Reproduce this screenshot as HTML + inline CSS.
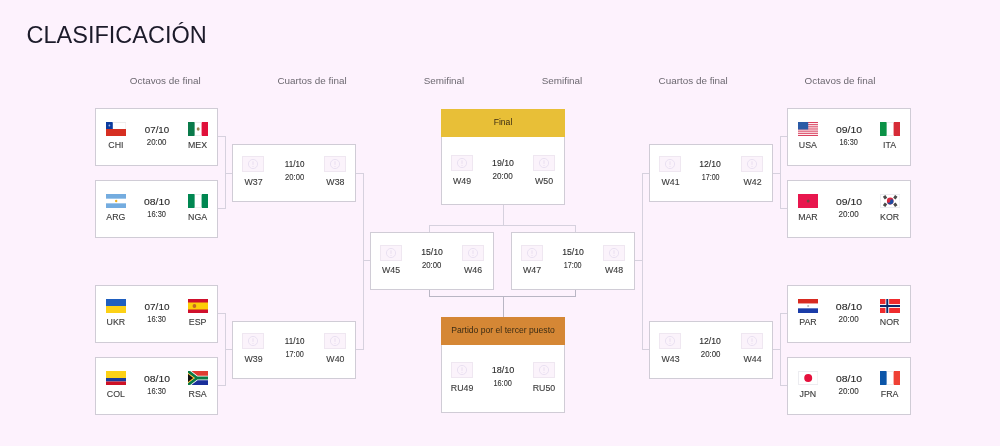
<!DOCTYPE html>
<html><head><meta charset="utf-8"><style>
*{margin:0;padding:0;box-sizing:border-box}
html,body{width:1000px;height:446px;overflow:hidden;background:#fdf2fd}
body{position:relative;font-family:"Liberation Sans",sans-serif;color:#333}
h1{position:absolute;left:26.5px;top:21.23px;font-size:23.5px;font-weight:400;line-height:28px;color:#1c1b2a;white-space:nowrap}
.col{position:absolute;width:100px;text-align:center;font-size:9.9px;line-height:12px;color:#6c6870;white-space:nowrap}
.card{position:absolute;background:#fff;border:1px solid #d0ccd6}
.hdr{position:absolute;left:-1px;top:-1px;right:-1px;height:28px;font-size:8.6px;line-height:26.8px;text-align:center;color:#3b2c14;white-space:nowrap}
.img{position:absolute;line-height:0}
.img svg{display:block}
.nm,.dt,.tm{position:absolute;text-align:center;white-space:nowrap}
.nm{font-size:8.8px;line-height:10px;color:#3c3c3c}
.dt{font-size:9.6px;line-height:12px;color:#2a2a2a}
.tm{font-size:8.5px;line-height:10px;color:#363636}
.sx{display:inline-block}
.nm,.dt,.tm{-webkit-text-stroke:.12px currentColor}
.ln{position:absolute;background:#d6d1de}
#root{position:absolute;left:0;top:0;width:1000px;height:446px;will-change:transform}
</style></head><body>
<div id="root">
<h1>CLASIFICACIÓN</h1>
<div class="ln" style="left:217px;top:136px;width:9px;height:1px"></div><div class="ln" style="left:217px;top:208px;width:9px;height:1px"></div><div class="ln" style="left:225px;top:136px;width:1px;height:73px"></div><div class="ln" style="left:225px;top:173px;width:8px;height:1px"></div><div class="ln" style="left:217px;top:313px;width:9px;height:1px"></div><div class="ln" style="left:217px;top:385px;width:9px;height:1px"></div><div class="ln" style="left:225px;top:313px;width:1px;height:73px"></div><div class="ln" style="left:225px;top:349px;width:8px;height:1px"></div><div class="ln" style="left:355px;top:173px;width:9px;height:1px"></div><div class="ln" style="left:355px;top:349px;width:9px;height:1px"></div><div class="ln" style="left:363px;top:173px;width:1px;height:177px"></div><div class="ln" style="left:363px;top:260px;width:8px;height:1px"></div><div class="ln" style="left:780px;top:136px;width:8px;height:1px"></div><div class="ln" style="left:780px;top:208px;width:8px;height:1px"></div><div class="ln" style="left:780px;top:136px;width:1px;height:73px"></div><div class="ln" style="left:772px;top:173px;width:9px;height:1px"></div><div class="ln" style="left:780px;top:313px;width:8px;height:1px"></div><div class="ln" style="left:780px;top:385px;width:8px;height:1px"></div><div class="ln" style="left:780px;top:313px;width:1px;height:73px"></div><div class="ln" style="left:772px;top:349px;width:9px;height:1px"></div><div class="ln" style="left:642px;top:173px;width:8px;height:1px"></div><div class="ln" style="left:642px;top:349px;width:8px;height:1px"></div><div class="ln" style="left:642px;top:173px;width:1px;height:177px"></div><div class="ln" style="left:634px;top:260px;width:9px;height:1px"></div><div class="ln" style="left:429px;top:225px;width:1px;height:8px"></div><div class="ln" style="left:575px;top:225px;width:1px;height:8px"></div><div class="ln" style="left:429px;top:225px;width:147px;height:1px"></div><div class="ln" style="left:503px;top:204px;width:1px;height:22px"></div><div class="ln" style="left:429px;top:289px;width:1px;height:8px;background:#b9b6c4"></div><div class="ln" style="left:575px;top:289px;width:1px;height:8px;background:#b9b6c4"></div><div class="ln" style="left:429px;top:296px;width:147px;height:1px;background:#b9b6c4"></div><div class="ln" style="left:503px;top:296px;width:1px;height:22px;background:#b9b6c4"></div><div class="card" style="left:95px;top:108px;width:123px;height:58px"><div class="img" style="left:10.00px;top:13.20px"><svg width="20.4" height="14" viewBox="0 0 21 14" preserveAspectRatio="none"><rect width="21" height="7" fill="#fff"/><rect y="7" width="21" height="7" fill="#d62f22"/><rect width="7" height="7" fill="#0b3b9e"/><circle cx="3.5" cy="3.5" r=".9" fill="#9fb4e6"/><path d="M7 .5 H20.5 V7" fill="none" stroke="#ececec"/></svg></div><div class="img" style="left:91.60px;top:13.20px"><svg width="20.4" height="14" viewBox="0 0 21 14" preserveAspectRatio="none"><rect width="7" height="14" fill="#0a7a4a"/><rect x="7" width="7" height="14" fill="#fff"/><rect x="14" width="7" height="14" fill="#e0103a"/><ellipse cx="10.5" cy="7" rx="1.5" ry="1.8" fill="#9a8050"/><path d="M7 .5 H14 M7 13.5 H14" stroke="#eee"/></svg></div><div class="nm" id="nm1" style="left:-2.10px;top:30.71px;width:44px">CHI</div><div class="nm" id="nm2" style="left:79.60px;top:30.71px;width:44px">MEX</div><div class="dt" id="dt3" style="left:38.70px;top:14.58px;width:44px"><span class="sx" style="transform:scaleX(1.017)">07/10</span></div><div class="tm" id="tm4" style="left:38.70px;top:27.90px;width:44px"><span class="sx" style="transform:scaleX(0.929)">20:00</span></div></div><div class="card" style="left:95px;top:180px;width:123px;height:58px"><div class="img" style="left:10.00px;top:13.20px"><svg width="20.4" height="14" viewBox="0 0 21 14" preserveAspectRatio="none"><rect width="21" height="14" fill="#74acdf"/><rect y="4.67" width="21" height="4.67" fill="#fff"/><circle cx="10.5" cy="7" r="1.2" fill="#f0b020"/></svg></div><div class="img" style="left:91.60px;top:13.20px"><svg width="20.4" height="14" viewBox="0 0 21 14" preserveAspectRatio="none"><rect width="7" height="14" fill="#008751"/><rect x="7" width="7" height="14" fill="#fff"/><rect x="14" width="7" height="14" fill="#008751"/><path d="M7 .5 H14 M7 13.5 H14" stroke="#eee"/></svg></div><div class="nm" id="nm5" style="left:-2.10px;top:30.71px;width:44px">ARG</div><div class="nm" id="nm6" style="left:79.60px;top:30.71px;width:44px">NGA</div><div class="dt" id="dt7" style="left:38.70px;top:14.58px;width:44px"><span class="sx" style="transform:scaleX(1.083)">08/10</span></div><div class="tm" id="tm8" style="left:38.70px;top:27.90px;width:44px"><span class="sx" style="transform:scaleX(0.875)">16:30</span></div></div><div class="card" style="left:95px;top:285px;width:123px;height:58px"><div class="img" style="left:10.00px;top:13.20px"><svg width="20.4" height="14" viewBox="0 0 21 14" preserveAspectRatio="none"><rect width="21" height="7" fill="#1f5fbf"/><rect y="7" width="21" height="7" fill="#fcd116"/></svg></div><div class="img" style="left:91.60px;top:13.20px"><svg width="20.4" height="14" viewBox="0 0 21 14" preserveAspectRatio="none"><rect width="21" height="14" fill="#d0102c"/><rect y="3.5" width="21" height="7" fill="#fcce08"/><circle cx="6.6" cy="7" r="1.9" fill="#b8562a" opacity=".85"/></svg></div><div class="nm" id="nm9" style="left:-2.10px;top:30.71px;width:44px">UKR</div><div class="nm" id="nm10" style="left:79.60px;top:30.71px;width:44px">ESP</div><div class="dt" id="dt11" style="left:38.70px;top:14.58px;width:44px"><span class="sx" style="transform:scaleX(1.035)">07/10</span></div><div class="tm" id="tm12" style="left:38.70px;top:27.90px;width:44px"><span class="sx" style="transform:scaleX(0.875)">16:30</span></div></div><div class="card" style="left:95px;top:357px;width:123px;height:58px"><div class="img" style="left:10.00px;top:13.20px"><svg width="20.4" height="14" viewBox="0 0 21 14" preserveAspectRatio="none"><rect width="21" height="7" fill="#fcd116"/><rect y="7" width="21" height="3.5" fill="#1a3c9c"/><rect y="10.5" width="21" height="3.5" fill="#ce1126"/></svg></div><div class="img" style="left:91.60px;top:13.20px"><svg width="20.4" height="14" viewBox="0 0 21 14" preserveAspectRatio="none"><rect width="21" height="7" fill="#e03c31"/><rect y="7" width="21" height="7" fill="#1a2f9a"/><path d="M-1 -0.6 L9.2 7 L-1 14.6 M9.2 7 H22" fill="none" stroke="#fff" stroke-width="4.4"/><path d="M-1 -0.6 L9.2 7 L-1 14.6 M9.2 7 H22" fill="none" stroke="#0a7a44" stroke-width="2.8"/><path d="M0 1.9 L6.9 7 L0 12.1 Z" fill="#ffb81c"/><path d="M0 3.1 L5.3 7 L0 10.9 Z" fill="#111"/></svg></div><div class="nm" id="nm13" style="left:-2.10px;top:30.71px;width:44px">COL</div><div class="nm" id="nm14" style="left:79.60px;top:30.71px;width:44px">RSA</div><div class="dt" id="dt15" style="left:38.70px;top:14.58px;width:44px"><span class="sx" style="transform:scaleX(1.083)">08/10</span></div><div class="tm" id="tm16" style="left:38.70px;top:27.90px;width:44px"><span class="sx" style="transform:scaleX(0.875)">16:30</span></div></div><div class="card" style="left:232px;top:144px;width:124px;height:58px"><div class="img" style="left:9.10px;top:11.00px"><svg width="22" height="16" viewBox="0 0 22 16"><rect x=".5" y=".5" width="21" height="15" fill="#fbf3fb" stroke="#efe7f1"/><circle cx="11" cy="8" r="4.6" fill="none" stroke="#e8dff0" stroke-width=".9"/><path d="M11 5.3 V8.8" stroke="#e6dbee" stroke-width=".9"/><circle cx="11" cy="10.4" r=".5" fill="#e6dbee"/></svg></div><div class="img" style="left:91.00px;top:11.00px"><svg width="22" height="16" viewBox="0 0 22 16"><rect x=".5" y=".5" width="21" height="15" fill="#fbf3fb" stroke="#efe7f1"/><circle cx="11" cy="8" r="4.6" fill="none" stroke="#e8dff0" stroke-width=".9"/><path d="M11 5.3 V8.8" stroke="#e6dbee" stroke-width=".9"/><circle cx="11" cy="10.4" r=".5" fill="#e6dbee"/></svg></div><div class="nm" id="nm17" style="left:-1.50px;top:31.71px;width:44px">W37</div><div class="nm" id="nm18" style="left:80.40px;top:31.71px;width:44px">W38</div><div class="dt" id="dt19" style="left:39.90px;top:12.68px;width:44px"><span class="sx" style="transform:scaleX(0.841)">11/10</span></div><div class="tm" id="tm20" style="left:39.90px;top:26.60px;width:44px"><span class="sx" style="transform:scaleX(0.895)">20:00</span></div></div><div class="card" style="left:232px;top:321px;width:124px;height:58px"><div class="img" style="left:9.10px;top:11.00px"><svg width="22" height="16" viewBox="0 0 22 16"><rect x=".5" y=".5" width="21" height="15" fill="#fbf3fb" stroke="#efe7f1"/><circle cx="11" cy="8" r="4.6" fill="none" stroke="#e8dff0" stroke-width=".9"/><path d="M11 5.3 V8.8" stroke="#e6dbee" stroke-width=".9"/><circle cx="11" cy="10.4" r=".5" fill="#e6dbee"/></svg></div><div class="img" style="left:91.00px;top:11.00px"><svg width="22" height="16" viewBox="0 0 22 16"><rect x=".5" y=".5" width="21" height="15" fill="#fbf3fb" stroke="#efe7f1"/><circle cx="11" cy="8" r="4.6" fill="none" stroke="#e8dff0" stroke-width=".9"/><path d="M11 5.3 V8.8" stroke="#e6dbee" stroke-width=".9"/><circle cx="11" cy="10.4" r=".5" fill="#e6dbee"/></svg></div><div class="nm" id="nm21" style="left:-1.50px;top:31.71px;width:44px">W39</div><div class="nm" id="nm22" style="left:80.40px;top:31.71px;width:44px">W40</div><div class="dt" id="dt23" style="left:39.90px;top:12.68px;width:44px"><span class="sx" style="transform:scaleX(0.841)">11/10</span></div><div class="tm" id="tm24" style="left:39.90px;top:26.60px;width:44px"><span class="sx" style="transform:scaleX(0.857)">17:00</span></div></div><div class="card" style="left:370px;top:232px;width:124px;height:58px"><div class="img" style="left:9.10px;top:11.60px"><svg width="22" height="16" viewBox="0 0 22 16"><rect x=".5" y=".5" width="21" height="15" fill="#fbf3fb" stroke="#efe7f1"/><circle cx="11" cy="8" r="4.6" fill="none" stroke="#e8dff0" stroke-width=".9"/><path d="M11 5.3 V8.8" stroke="#e6dbee" stroke-width=".9"/><circle cx="11" cy="10.4" r=".5" fill="#e6dbee"/></svg></div><div class="img" style="left:91.00px;top:11.60px"><svg width="22" height="16" viewBox="0 0 22 16"><rect x=".5" y=".5" width="21" height="15" fill="#fbf3fb" stroke="#efe7f1"/><circle cx="11" cy="8" r="4.6" fill="none" stroke="#e8dff0" stroke-width=".9"/><path d="M11 5.3 V8.8" stroke="#e6dbee" stroke-width=".9"/><circle cx="11" cy="10.4" r=".5" fill="#e6dbee"/></svg></div><div class="nm" id="nm25" style="left:-1.90px;top:32.31px;width:44px">W45</div><div class="nm" id="nm26" style="left:80.00px;top:32.31px;width:44px">W46</div><div class="dt" id="dt27" style="left:39.00px;top:13.28px;width:44px"><span class="sx" style="transform:scaleX(0.904)">15/10</span></div><div class="tm" id="tm28" style="left:39.00px;top:27.20px;width:44px"><span class="sx" style="transform:scaleX(0.914)">20:00</span></div></div><div class="card" style="left:511px;top:232px;width:124px;height:58px"><div class="img" style="left:9.10px;top:11.60px"><svg width="22" height="16" viewBox="0 0 22 16"><rect x=".5" y=".5" width="21" height="15" fill="#fbf3fb" stroke="#efe7f1"/><circle cx="11" cy="8" r="4.6" fill="none" stroke="#e8dff0" stroke-width=".9"/><path d="M11 5.3 V8.8" stroke="#e6dbee" stroke-width=".9"/><circle cx="11" cy="10.4" r=".5" fill="#e6dbee"/></svg></div><div class="img" style="left:91.00px;top:11.60px"><svg width="22" height="16" viewBox="0 0 22 16"><rect x=".5" y=".5" width="21" height="15" fill="#fbf3fb" stroke="#efe7f1"/><circle cx="11" cy="8" r="4.6" fill="none" stroke="#e8dff0" stroke-width=".9"/><path d="M11 5.3 V8.8" stroke="#e6dbee" stroke-width=".9"/><circle cx="11" cy="10.4" r=".5" fill="#e6dbee"/></svg></div><div class="nm" id="nm29" style="left:-1.90px;top:32.31px;width:44px">W47</div><div class="nm" id="nm30" style="left:80.00px;top:32.31px;width:44px">W48</div><div class="dt" id="dt31" style="left:39.00px;top:13.28px;width:44px"><span class="sx" style="transform:scaleX(0.904)">15/10</span></div><div class="tm" id="tm32" style="left:39.00px;top:27.20px;width:44px"><span class="sx" style="transform:scaleX(0.843)">17:00</span></div></div><div class="card" style="left:441px;top:109px;width:124px;height:96px"><div class="hdr" style="background:#e8bf37">Final</div><div class="img" style="left:9.10px;top:45.00px"><svg width="22" height="16" viewBox="0 0 22 16"><rect x=".5" y=".5" width="21" height="15" fill="#fbf3fb" stroke="#efe7f1"/><circle cx="11" cy="8" r="4.6" fill="none" stroke="#e8dff0" stroke-width=".9"/><path d="M11 5.3 V8.8" stroke="#e6dbee" stroke-width=".9"/><circle cx="11" cy="10.4" r=".5" fill="#e6dbee"/></svg></div><div class="img" style="left:91.00px;top:45.00px"><svg width="22" height="16" viewBox="0 0 22 16"><rect x=".5" y=".5" width="21" height="15" fill="#fbf3fb" stroke="#efe7f1"/><circle cx="11" cy="8" r="4.6" fill="none" stroke="#e8dff0" stroke-width=".9"/><path d="M11 5.3 V8.8" stroke="#e6dbee" stroke-width=".9"/><circle cx="11" cy="10.4" r=".5" fill="#e6dbee"/></svg></div><div class="nm" id="nm33" style="left:-1.90px;top:65.71px;width:44px">W49</div><div class="nm" id="nm34" style="left:80.00px;top:65.71px;width:44px">W50</div><div class="dt" id="dt35" style="left:39.00px;top:46.68px;width:44px"><span class="sx" style="transform:scaleX(0.913)">19/10</span></div><div class="tm" id="tm36" style="left:39.00px;top:60.60px;width:44px"><span class="sx" style="transform:scaleX(0.952)">20:00</span></div></div><div class="card" style="left:441px;top:317px;width:124px;height:96px"><div class="hdr" style="background:#d58735">Partido por el tercer puesto</div><div class="img" style="left:9.10px;top:44.00px"><svg width="22" height="16" viewBox="0 0 22 16"><rect x=".5" y=".5" width="21" height="15" fill="#fbf3fb" stroke="#efe7f1"/><circle cx="11" cy="8" r="4.6" fill="none" stroke="#e8dff0" stroke-width=".9"/><path d="M11 5.3 V8.8" stroke="#e6dbee" stroke-width=".9"/><circle cx="11" cy="10.4" r=".5" fill="#e6dbee"/></svg></div><div class="img" style="left:91.00px;top:44.00px"><svg width="22" height="16" viewBox="0 0 22 16"><rect x=".5" y=".5" width="21" height="15" fill="#fbf3fb" stroke="#efe7f1"/><circle cx="11" cy="8" r="4.6" fill="none" stroke="#e8dff0" stroke-width=".9"/><path d="M11 5.3 V8.8" stroke="#e6dbee" stroke-width=".9"/><circle cx="11" cy="10.4" r=".5" fill="#e6dbee"/></svg></div><div class="nm" id="nm37" style="left:-1.90px;top:64.71px;width:44px">RU49</div><div class="nm" id="nm38" style="left:80.00px;top:64.71px;width:44px">RU50</div><div class="dt" id="dt39" style="left:39.00px;top:45.68px;width:44px"><span class="sx" style="transform:scaleX(0.944)">18/10</span></div><div class="tm" id="tm40" style="left:39.00px;top:59.60px;width:44px"><span class="sx" style="transform:scaleX(0.867)">16:00</span></div></div><div class="card" style="left:649px;top:144px;width:124px;height:58px"><div class="img" style="left:9.10px;top:11.00px"><svg width="22" height="16" viewBox="0 0 22 16"><rect x=".5" y=".5" width="21" height="15" fill="#fbf3fb" stroke="#efe7f1"/><circle cx="11" cy="8" r="4.6" fill="none" stroke="#e8dff0" stroke-width=".9"/><path d="M11 5.3 V8.8" stroke="#e6dbee" stroke-width=".9"/><circle cx="11" cy="10.4" r=".5" fill="#e6dbee"/></svg></div><div class="img" style="left:91.00px;top:11.00px"><svg width="22" height="16" viewBox="0 0 22 16"><rect x=".5" y=".5" width="21" height="15" fill="#fbf3fb" stroke="#efe7f1"/><circle cx="11" cy="8" r="4.6" fill="none" stroke="#e8dff0" stroke-width=".9"/><path d="M11 5.3 V8.8" stroke="#e6dbee" stroke-width=".9"/><circle cx="11" cy="10.4" r=".5" fill="#e6dbee"/></svg></div><div class="nm" id="nm41" style="left:-1.40px;top:31.71px;width:44px">W41</div><div class="nm" id="nm42" style="left:80.50px;top:31.71px;width:44px">W42</div><div class="dt" id="dt43" style="left:38.30px;top:12.68px;width:44px"><span class="sx" style="transform:scaleX(0.904)">12/10</span></div><div class="tm" id="tm44" style="left:38.30px;top:26.60px;width:44px"><span class="sx" style="transform:scaleX(0.838)">17:00</span></div></div><div class="card" style="left:649px;top:321px;width:124px;height:58px"><div class="img" style="left:9.10px;top:11.00px"><svg width="22" height="16" viewBox="0 0 22 16"><rect x=".5" y=".5" width="21" height="15" fill="#fbf3fb" stroke="#efe7f1"/><circle cx="11" cy="8" r="4.6" fill="none" stroke="#e8dff0" stroke-width=".9"/><path d="M11 5.3 V8.8" stroke="#e6dbee" stroke-width=".9"/><circle cx="11" cy="10.4" r=".5" fill="#e6dbee"/></svg></div><div class="img" style="left:91.00px;top:11.00px"><svg width="22" height="16" viewBox="0 0 22 16"><rect x=".5" y=".5" width="21" height="15" fill="#fbf3fb" stroke="#efe7f1"/><circle cx="11" cy="8" r="4.6" fill="none" stroke="#e8dff0" stroke-width=".9"/><path d="M11 5.3 V8.8" stroke="#e6dbee" stroke-width=".9"/><circle cx="11" cy="10.4" r=".5" fill="#e6dbee"/></svg></div><div class="nm" id="nm45" style="left:-1.40px;top:31.71px;width:44px">W43</div><div class="nm" id="nm46" style="left:80.50px;top:31.71px;width:44px">W44</div><div class="dt" id="dt47" style="left:38.30px;top:12.68px;width:44px"><span class="sx" style="transform:scaleX(0.904)">12/10</span></div><div class="tm" id="tm48" style="left:38.30px;top:26.60px;width:44px"><span class="sx" style="transform:scaleX(0.929)">20:00</span></div></div><div class="card" style="left:787px;top:108px;width:124px;height:58px"><div class="img" style="left:10.00px;top:13.20px"><svg width="20.4" height="14" viewBox="0 0 21 14" preserveAspectRatio="none"><rect width="21" height="14" fill="#fff"/><rect y="0.00" width="21" height="1.08" fill="#d9405e"/><rect y="2.15" width="21" height="1.08" fill="#d9405e"/><rect y="4.30" width="21" height="1.08" fill="#d9405e"/><rect y="6.45" width="21" height="1.08" fill="#d9405e"/><rect y="8.60" width="21" height="1.08" fill="#d9405e"/><rect y="10.75" width="21" height="1.08" fill="#d9405e"/><rect y="12.90" width="21" height="1.08" fill="#d9405e"/><rect width="10.5" height="7.5" fill="#2b5ba6"/></svg></div><div class="img" style="left:91.60px;top:13.20px"><svg width="20.4" height="14" viewBox="0 0 21 14" preserveAspectRatio="none"><rect width="7" height="14" fill="#0b9246"/><rect x="7" width="7" height="14" fill="#fff"/><rect x="14" width="7" height="14" fill="#d62b37"/><path d="M7 .5 H14 M7 13.5 H14" stroke="#eee"/></svg></div><div class="nm" id="nm49" style="left:-2.10px;top:30.71px;width:44px">USA</div><div class="nm" id="nm50" style="left:79.60px;top:30.71px;width:44px">ITA</div><div class="dt" id="dt51" style="left:38.70px;top:14.58px;width:44px"><span class="sx" style="transform:scaleX(1.087)">09/10</span></div><div class="tm" id="tm52" style="left:38.70px;top:27.90px;width:44px"><span class="sx" style="transform:scaleX(0.860)">16:30</span></div></div><div class="card" style="left:787px;top:180px;width:124px;height:58px"><div class="img" style="left:10.00px;top:13.20px"><svg width="20.4" height="14" viewBox="0 0 21 14" preserveAspectRatio="none"><rect width="21" height="14" fill="#e8174e"/><circle cx="10.5" cy="7" r="1.5" fill="#4a5a40" opacity=".75"/></svg></div><div class="img" style="left:91.60px;top:13.20px"><svg width="20.4" height="14" viewBox="0 0 21 14" preserveAspectRatio="none"><rect x=".5" y=".5" width="20" height="13" fill="#fff" stroke="#ececf0"/><circle cx="10.5" cy="7" r="3.4" fill="#d8283e"/><path d="M7.1 7.3 A3.4 3.4 0 0 0 13.9 6.7 A1.7 1.7 0 0 0 10.5 7 A1.7 1.7 0 0 1 7.1 7.3Z" fill="#1d4aa0"/><g fill="#4a4a4a"><rect x="-1.5" y="-1.7" width="3" height="3.4" transform="translate(5.2 3.3) rotate(-35)"/><rect x="-1.5" y="-1.7" width="3" height="3.4" transform="translate(15.8 3.3) rotate(35)"/><rect x="-1.5" y="-1.7" width="3" height="3.4" transform="translate(5.2 10.7) rotate(35)"/><rect x="-1.5" y="-1.7" width="3" height="3.4" transform="translate(15.8 10.7) rotate(-35)"/></g></svg></div><div class="nm" id="nm53" style="left:-2.10px;top:30.71px;width:44px">MAR</div><div class="nm" id="nm54" style="left:79.60px;top:30.71px;width:44px">KOR</div><div class="dt" id="dt55" style="left:38.70px;top:14.58px;width:44px"><span class="sx" style="transform:scaleX(1.087)">09/10</span></div><div class="tm" id="tm56" style="left:38.70px;top:27.90px;width:44px"><span class="sx" style="transform:scaleX(0.943)">20:00</span></div></div><div class="card" style="left:787px;top:285px;width:124px;height:58px"><div class="img" style="left:10.00px;top:13.20px"><svg width="20.4" height="14" viewBox="0 0 21 14" preserveAspectRatio="none"><rect width="21" height="4.67" fill="#d82a20"/><rect y="4.67" width="21" height="4.67" fill="#fff"/><rect y="9.33" width="21" height="4.67" fill="#1a3ca8"/><circle cx="10.5" cy="7" r="1.1" fill="#8a8a8a" opacity=".6"/></svg></div><div class="img" style="left:91.60px;top:13.20px"><svg width="20.4" height="14" viewBox="0 0 21 14" preserveAspectRatio="none"><rect width="21" height="14" fill="#ef2b2d"/><rect x="5.6" width="3.8" height="14" fill="#fff"/><rect y="5.1" width="21" height="3.8" fill="#fff"/><rect x="6.5" width="2" height="14" fill="#0a2a6a"/><rect y="6" width="21" height="2" fill="#0a2a6a"/></svg></div><div class="nm" id="nm57" style="left:-2.10px;top:30.71px;width:44px">PAR</div><div class="nm" id="nm58" style="left:79.60px;top:30.71px;width:44px">NOR</div><div class="dt" id="dt59" style="left:38.70px;top:14.58px;width:44px"><span class="sx" style="transform:scaleX(1.100)">08/10</span></div><div class="tm" id="tm60" style="left:38.70px;top:27.90px;width:44px"><span class="sx" style="transform:scaleX(0.943)">20:00</span></div></div><div class="card" style="left:787px;top:357px;width:124px;height:58px"><div class="img" style="left:10.00px;top:13.20px"><svg width="20.4" height="14" viewBox="0 0 21 14" preserveAspectRatio="none"><rect x=".5" y=".5" width="20" height="13" fill="#fff" stroke="#ececf0"/><circle cx="10.5" cy="7" r="4.1" fill="#e5103c"/></svg></div><div class="img" style="left:91.60px;top:13.20px"><svg width="20.4" height="14" viewBox="0 0 21 14" preserveAspectRatio="none"><rect width="7" height="14" fill="#0b55a8"/><rect x="7" width="7" height="14" fill="#fff"/><rect x="14" width="7" height="14" fill="#ef4135"/><path d="M7 .5 H14 M7 13.5 H14" stroke="#eee"/></svg></div><div class="nm" id="nm61" style="left:-2.10px;top:30.71px;width:44px">JPN</div><div class="nm" id="nm62" style="left:79.60px;top:30.71px;width:44px">FRA</div><div class="dt" id="dt63" style="left:38.70px;top:14.58px;width:44px"><span class="sx" style="transform:scaleX(1.087)">08/10</span></div><div class="tm" id="tm64" style="left:38.70px;top:27.90px;width:44px"><span class="sx" style="transform:scaleX(0.943)">20:00</span></div></div><div class="col" style="left:115.19999999999999px;top:74.58px">Octavos de final</div><div class="col" style="left:262px;top:74.58px">Cuartos de final</div><div class="col" style="left:394px;top:74.58px">Semifinal</div><div class="col" style="left:512px;top:74.58px">Semifinal</div><div class="col" style="left:643.2px;top:74.58px">Cuartos de final</div><div class="col" style="left:790px;top:74.58px">Octavos de final</div>
</div>
</body></html>
